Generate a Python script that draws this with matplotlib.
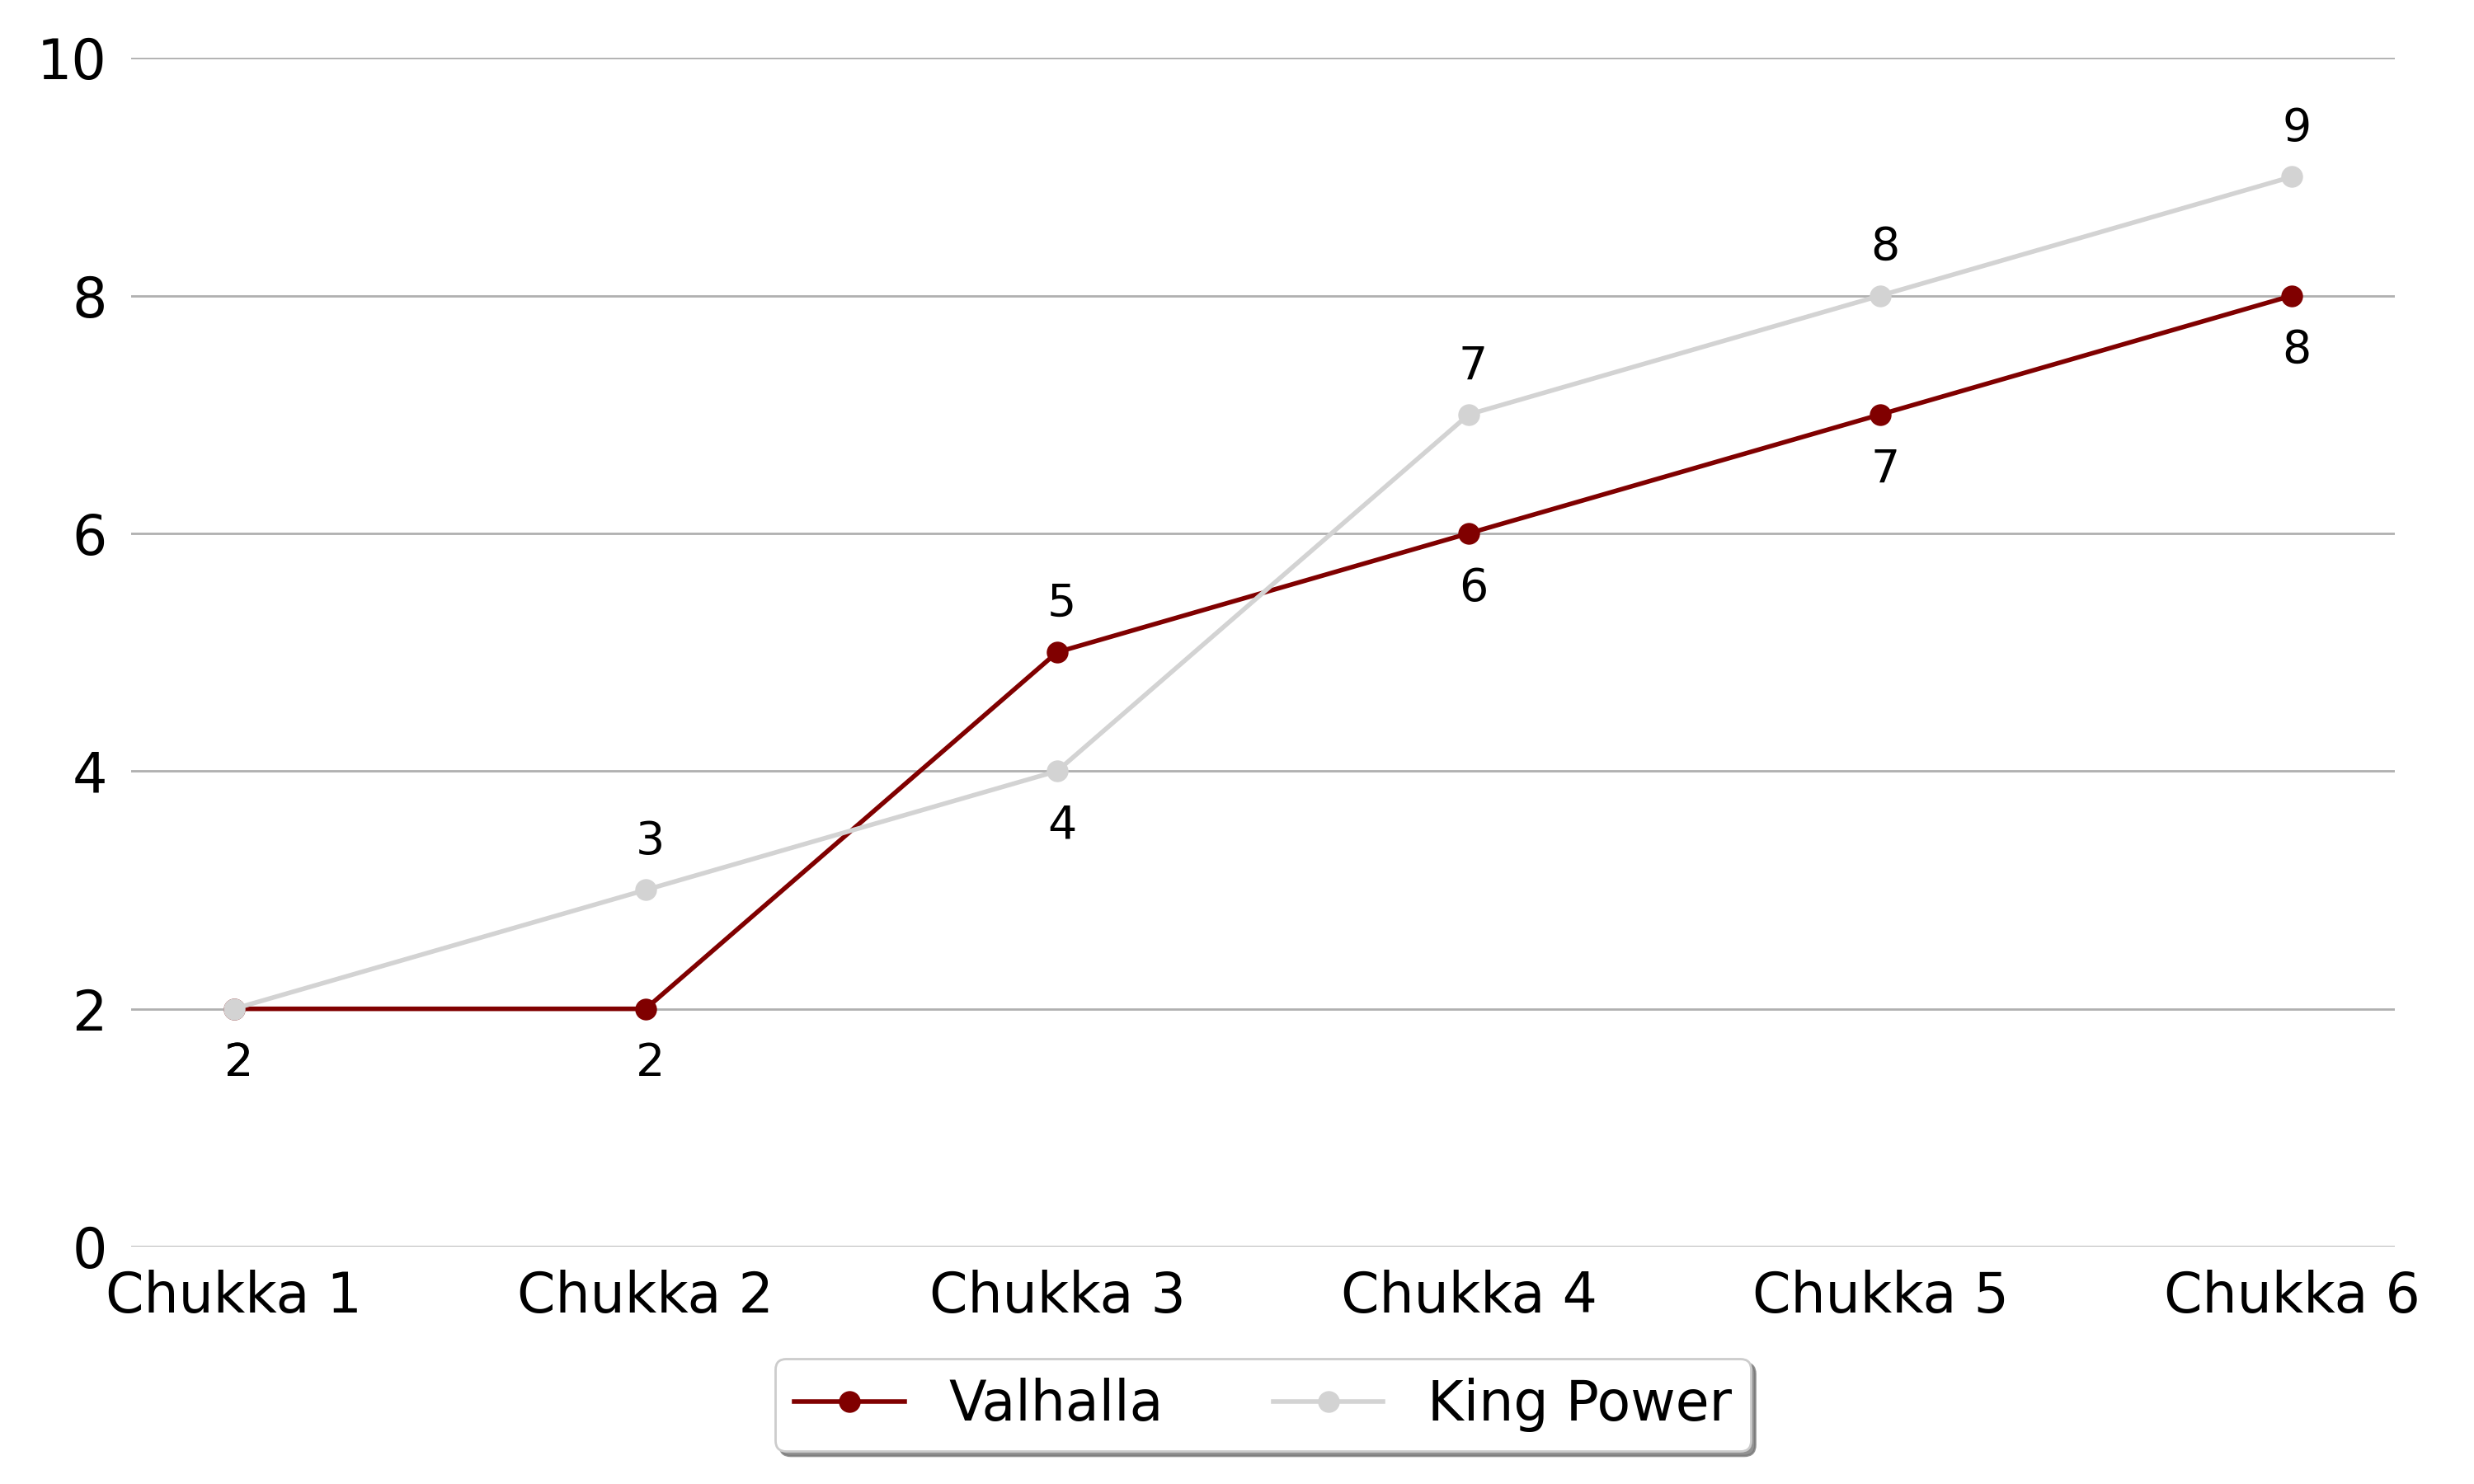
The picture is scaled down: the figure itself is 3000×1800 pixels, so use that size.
import matplotlib
matplotlib.use('Agg')
import matplotlib.pyplot as plt

chukkas = ['Chukka 1', 'Chukka 2', 'Chukka 3', 'Chukka 4', 'Chukka 5', 'Chukka 6']
valhalla = [2, 2, 5, 6, 7, 8]
king_power = [2, 3, 4, 7, 8, 9]

VALHALLA_COLOR = '#800000'
KING_COLOR = '#d3d3d3'

fig, ax = plt.subplots(figsize=(15, 9), dpi=200)
fig.subplots_adjust(left=0.053, right=0.968, top=0.961, bottom=0.16)

x = list(range(len(chukkas)))
ax.plot(x, valhalla, marker='o', color=VALHALLA_COLOR, lw=2, markersize=8.5,
        label='Valhalla', zorder=3)
ax.plot(x, king_power, marker='o', color=KING_COLOR, lw=2, markersize=8.5,
        label='King Power', zorder=4)

# value labels: higher team above, lower (or tied) below
for i, (v, k) in enumerate(zip(valhalla, king_power)):
    v_off = 21 if v > k else -24
    k_off = 21 if k > v else -24
    ax.annotate(str(v), (i, v), xytext=(2, v_off), textcoords='offset points',
                ha='center', va='center', fontsize=20)
    ax.annotate(str(k), (i, k), xytext=(2, k_off), textcoords='offset points',
                ha='center', va='center', fontsize=20)

ax.set_xlim(-0.25, len(chukkas) - 0.75)
ax.set_ylim(0, 10)
ax.set_xticks(x)
ax.set_xticklabels(chukkas)
ax.set_yticks([0, 2, 4, 6, 8, 10])
ax.tick_params(axis='both', length=0, labelsize=24)
ax.tick_params(axis='x', pad=10)
ax.tick_params(axis='y', pad=10.5)
ax.yaxis.grid(True, color='#b0b0b0', lw=1)
ax.set_axisbelow(True)
for spine in ax.spines.values():
    spine.set_visible(False)

ax.legend(loc='upper center', bbox_to_anchor=(0.5, -0.071), ncol=2,
          fontsize=24, frameon=True, shadow={'color': '#777777', 'alpha': 0.8},
          fancybox=True, handlelength=2.0, columnspacing=2.0, borderpad=0.35)

fig.savefig('out.png')
